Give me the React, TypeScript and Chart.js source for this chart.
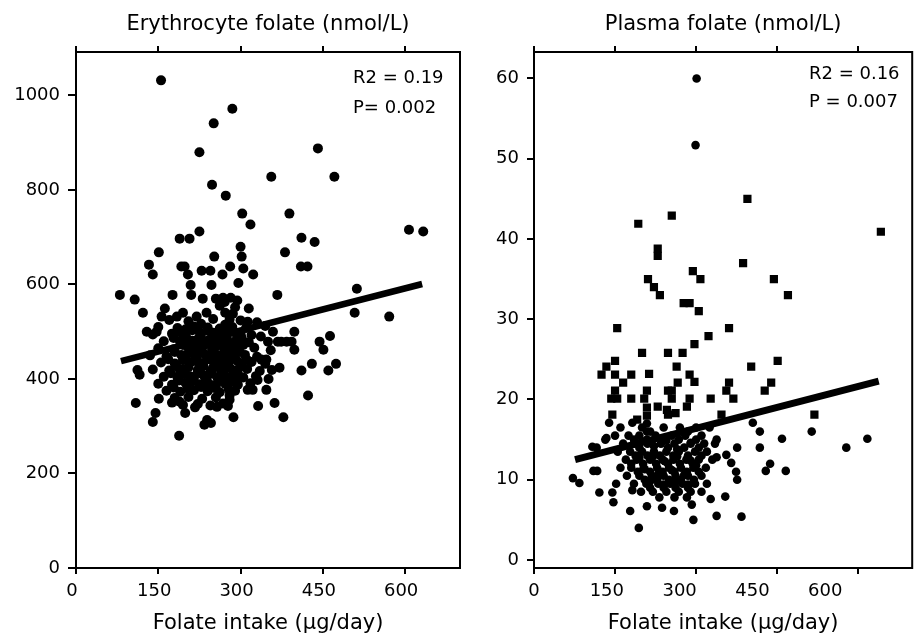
import React, { useEffect, useRef } from 'react';
import { Chart, registerables } from 'chart.js';

Chart.register(...registerables);

const FONT_FAMILY = "'DejaVu Sans', sans-serif";

// ---- axis ticks & texts ----
const intakeTicks = [0, 150, 300, 450, 600];
const eryTicks = [0, 200, 400, 600, 800, 1000];
const plasmaTicks = [0, 10, 20, 30, 40, 50, 60];

const eryTitle = 'Erythrocyte folate (nmol/L)';
const plasmaTitle = 'Plasma folate (nmol/L)';
const intakeTitle = 'Folate intake (µg/day)';
const eryStats = ['R2 = 0.19', 'P= 0.002'];
const plasmaStats = ['R2 = 0.16', 'P = 0.007'];

// ---- erythrocyte folate vs intake ----
const eryFit: [number, number][] = [[82, 438], [631, 601]];

const eryPeriphery: [number, number][] = [
  [155, 1032], [251, 941], [285, 972], [225, 880], [248, 811], [273, 788], [356, 828], [441, 888], [471, 828],
  [303, 750], [318, 727], [389, 750], [607, 716], [633, 712], [225, 712], [189, 697], [207, 697],
  [151, 668], [133, 642], [140, 621], [192, 638], [198, 638], [204, 621], [209, 599], [252, 659],
  [229, 629], [245, 629], [247, 599], [267, 621], [281, 638], [300, 680], [302, 659], [305, 634], [323, 621], [296, 603],
  [411, 699], [435, 690], [381, 668], [410, 638], [422, 638], [367, 578], [80, 578], [107, 568], [176, 578], [210, 578], [231, 570],
  [512, 591], [508, 540], [571, 532], [122, 540], [162, 549], [156, 532], [184, 532], [195, 540], [220, 532], [238, 540], [315, 549], [313, 521],
  [129, 500], [147, 500], [398, 500], [359, 500], [298, 489],
  [112, 419], [116, 409], [109, 349], [140, 309], [145, 328], [151, 358], [188, 280], [199, 328], [217, 340],
  [234, 303], [239, 313], [246, 307], [257, 341], [277, 343], [280, 356], [287, 319], [332, 343], [362, 349], [378, 319],
  [347, 377], [313, 377], [322, 377], [331, 398], [351, 400], [357, 419], [371, 424], [411, 418], [430, 432], [423, 365],
  [460, 418], [474, 432], [444, 479], [451, 462], [463, 491], [398, 462], [384, 479], [368, 479], [350, 479], [337, 490],
  [338, 441], [347, 441], [374, 479], [393, 479], [175, 350], [189, 352],
  [255, 570], [268, 572], [282, 572], [294, 566], [290, 552], [286, 538], [280, 526], [262, 555], [272, 540], [271, 563],
];

const eryCluster: [number, number][] = [
  [170, 525], [205, 522], [250, 527], [300, 524], [330, 520],
  [228, 517], [272, 515],
  [150, 510], [185, 508], [215, 511], [240, 509], [262, 507], [285, 510], [310, 508], [345, 512],
  [188, 500], [212, 503], [242, 501], [265, 503], [288, 499],
  [140, 494], [175, 496], [200, 493], [228, 495], [255, 494], [275, 492], [300, 496], [320, 493],
  [178, 487], [202, 485], [225, 488], [250, 486], [275, 484], [302, 487],
  [160, 480], [190, 478], [212, 481], [238, 479], [260, 477], [290, 480], [315, 478],
  [195, 472], [218, 470], [236, 473], [258, 471], [280, 469], [305, 472],
  [150, 465], [178, 463], [205, 466], [225, 464], [248, 462], [270, 465], [295, 463], [325, 466], [355, 461],
  [180, 457], [205, 455], [230, 458], [252, 456], [275, 454], [298, 457],
  [135, 450], [165, 448], [192, 451], [218, 449], [240, 447], [262, 450], [285, 448], [308, 451], [330, 447],
  [168, 442], [195, 440], [220, 443], [245, 441], [268, 439], [290, 442], [312, 440],
  [155, 435], [180, 433], [210, 436], [232, 434], [255, 432], [278, 435], [300, 433], [320, 436], [345, 432],
  [183, 427], [205, 425], [232, 428], [258, 426], [280, 424], [302, 427],
  [140, 420], [170, 418], [195, 421], [222, 419], [245, 417], [268, 420], [290, 418], [312, 421], [335, 417],
  [173, 412], [198, 410], [222, 413], [248, 411], [270, 409], [295, 412],
  [160, 405], [185, 403], [208, 406], [235, 404], [258, 402], [282, 405], [305, 403], [328, 406],
  [188, 397], [212, 395], [238, 398], [262, 396], [285, 394],
  [150, 390], [175, 388], [200, 391], [225, 389], [248, 387], [272, 390], [295, 388], [318, 391],
  [178, 382], [203, 380], [228, 383], [252, 381], [278, 379],
  [165, 375], [190, 373], [215, 376], [240, 374], [262, 372], [290, 375],
  [180, 360], [205, 362], [230, 358], [255, 361], [280, 365],
  [195, 345], [222, 347], [245, 344], [268, 348],
  [200, 505], [225, 500], [250, 498], [278, 506], [195, 488], [220, 482], [245, 476], [268, 480], [292, 474],
  [210, 462], [235, 452], [258, 445], [282, 460], [200, 445], [225, 430], [250, 424], [272, 430], [295, 437],
  [190, 415], [215, 402], [240, 392], [265, 415], [290, 400], [230, 410], [255, 385],
];

// ---- plasma folate vs intake ----
const plasmaFit: [number, number][] = [[76, 12.5], [638, 22.3]];

const plasmaSquares: [number, number][] = [
  [255, 42.9], [193, 41.9], [395, 45.0], [642, 40.9], [229, 38.8], [229, 37.9], [387, 37.0], [294, 36.0], [308, 35.0],
  [211, 35.0], [222, 34.0], [233, 33.0], [444, 35.0], [470, 33.0], [277, 32.0], [288, 32.0], [305, 31.0],
  [154, 28.9], [361, 28.9], [323, 27.9], [297, 26.9], [200, 25.8], [248, 25.8], [275, 25.8], [150, 24.8], [451, 24.8],
  [134, 24.1], [264, 24.1], [402, 24.1],
  [125, 23.1], [150, 23.1], [180, 23.1], [213, 23.2], [288, 23.1], [297, 22.2], [165, 22.1], [266, 22.1], [361, 22.1], [439, 22.1],
  [427, 21.1], [150, 21.1], [209, 21.1], [248, 21.1], [255, 21.1], [356, 21.1],
  [143, 20.1], [154, 20.1], [180, 20.1], [204, 20.1], [255, 20.1], [288, 20.1], [327, 20.1], [369, 20.1],
  [229, 19.1], [283, 19.1], [248, 18.1], [145, 18.1], [519, 18.1], [347, 18.1], [209, 19.0], [209, 18.0],
  [246, 18.7], [262, 18.3], [191, 17.5],
];

const plasmaDots: [number, number][] = [
  [301, 60.0], [299, 51.7],
  [139, 17.1], [182, 17.1], [405, 17.1], [514, 16.0], [418, 16.0], [338, 15.0], [459, 15.1], [617, 15.1],
  [132, 15.0], [578, 14.0], [418, 14.0], [376, 14.0], [116, 14.0], [108, 14.1], [134, 15.2],
  [437, 12.0], [429, 11.1], [466, 11.1], [356, 13.1], [365, 12.1], [374, 11.0], [376, 10.0], [338, 12.8],
  [110, 11.1], [117, 11.1], [72, 10.2], [84, 9.6], [121, 8.4], [145, 8.4], [147, 7.2], [178, 6.1], [209, 6.7],
  [237, 6.5], [259, 6.1], [194, 4.0], [295, 5.0], [292, 6.9], [338, 5.5], [384, 5.4], [327, 7.6], [354, 7.9],
  [152, 9.5], [182, 8.7], [209, 17.0], [209, 16.0], [209, 15.0],
  [160, 16.5], [200, 16.5], [240, 16.5], [270, 16.5], [300, 16.5], [325, 16.5],
  [150, 15.5], [175, 15.5], [195, 15.5], [225, 15.5], [255, 15.5], [280, 15.5], [310, 15.5],
  [165, 14.5], [185, 14.5], [210, 14.5], [235, 14.5], [260, 14.5], [290, 14.5], [315, 14.5], [335, 14.5],
  [155, 13.5], [178, 13.5], [200, 13.5], [222, 13.5], [245, 13.5], [268, 13.5], [298, 13.5], [320, 13.5],
  [170, 12.5], [190, 12.5], [215, 12.5], [238, 12.5], [258, 12.5], [282, 12.5], [305, 12.5], [330, 12.5],
  [160, 11.5], [180, 11.5], [203, 11.5], [228, 11.5], [250, 11.5], [272, 11.5], [295, 11.5], [318, 11.5],
  [172, 10.5], [195, 10.5], [218, 10.5], [240, 10.5], [262, 10.5], [285, 10.5], [310, 10.5],
  [185, 9.5], [208, 9.5], [230, 9.5], [252, 9.5], [275, 9.5], [298, 9.5], [320, 9.5],
  [198, 8.5], [220, 8.5], [245, 8.5], [268, 8.5], [290, 8.5], [310, 8.5],
  [232, 7.8], [260, 7.8], [283, 7.8],
  [215, 16.0], [285, 16.0],
  [185, 15.0], [240, 15.0], [268, 15.0], [300, 15.0],
  [195, 14.0], [248, 14.0], [278, 14.0], [305, 14.0],
  [188, 13.0], [210, 13.0], [233, 13.0], [258, 13.0], [285, 13.0], [310, 13.0],
  [180, 12.0], [202, 12.0], [226, 12.0], [248, 12.0], [270, 12.0], [294, 12.0],
  [192, 11.0], [215, 11.0], [238, 11.0], [260, 11.0], [283, 11.0], [305, 11.0],
  [205, 10.0], [228, 10.0], [250, 10.0], [272, 10.0], [296, 10.0],
  [215, 9.0], [240, 9.0], [262, 9.0], [285, 9.0],
  [200, 14.8], [222, 14.2], [245, 14.9], [265, 13.8], [290, 14.6], [195, 12.7], [220, 12.9], [242, 12.3],
  [265, 12.9], [290, 12.4], [205, 11.3], [230, 10.7], [255, 11.2], [278, 10.6], [300, 11.8],
  [215, 9.8], [240, 9.4], [262, 9.7], [285, 9.4],
];

// ---- helpers ----
const toXY = (pts: [number, number][]) => pts.map(([x, y]) => ({ x, y }));

const tickSetter = (values: number[]) => (scale: any) => {
  scale.ticks = values.map((v) => ({ value: v }));
};

const plainLabel = (v: any) => String(v);

const tickGrid = (len: number) => ({
  display: true,
  drawOnChartArea: false,
  drawTicks: true,
  tickLength: len,
  color: '#000',
  lineWidth: 2,
});

const tickFont = { family: FONT_FAMILY, size: 18 };
const titleFont = { family: FONT_FAMILY, size: 21 };

function framePlugin(notes: string[], noteX: number, noteYs: number[]) {
  return {
    id: 'frameAndNotes',
    afterDraw(chart: any) {
      const { ctx, chartArea: a } = chart;
      ctx.save();
      ctx.strokeStyle = '#000';
      ctx.lineWidth = 2;
      ctx.strokeRect(a.left, a.top, a.right - a.left, a.bottom - a.top);
      ctx.fillStyle = '#000';
      ctx.font = `18px ${FONT_FAMILY}`;
      ctx.textAlign = 'left';
      ctx.textBaseline = 'alphabetic';
      notes.forEach((t, i) => ctx.fillText(t, noteX, noteYs[i]));
      ctx.restore();
    },
  };
}

export default function App() {
  const leftRef = useRef<HTMLCanvasElement | null>(null);
  const rightRef = useRef<HTMLCanvasElement | null>(null);

  useEffect(() => {
    if (!leftRef.current || !rightRef.current) return;

    const left = new Chart(leftRef.current, {
      type: 'scatter',
      data: {
        datasets: [
          {
            data: toXY(eryFit),
            showLine: true,
            borderColor: '#000',
            borderWidth: 6.5,
            pointRadius: 0,
          } as any,
          {
            data: toXY([...eryPeriphery, ...eryCluster]),
            pointStyle: 'circle',
            pointRadius: 5,
            pointHoverRadius: 5,
            backgroundColor: '#000',
            borderColor: '#000',
            borderWidth: 0,
          } as any,
        ],
      },
      options: {
        animation: false,
        responsive: false,
        events: [],
        layout: { padding: { left: 0, right: 10, top: 0, bottom: 0 } },
        plugins: { legend: { display: false }, tooltip: { enabled: false } },
        scales: {
          x: {
            type: 'linear',
            position: 'bottom',
            min: 0,
            max: 700,
            afterBuildTicks: tickSetter(intakeTicks),
            ticks: { font: tickFont, color: '#000', padding: 7, labelOffset: -4, maxRotation: 0, autoSkip: false, callback: plainLabel },
            grid: tickGrid(6),
            border: { display: false },
            title: { display: true, text: intakeTitle, font: titleFont, color: '#000', padding: { top: 0, bottom: 0 } },
            afterFit: (s: any) => { s.height = 68; },
          },
          x2: {
            type: 'linear',
            axis: 'x',
            position: 'top',
            min: 0,
            max: 700,
            afterBuildTicks: tickSetter(intakeTicks),
            ticks: { display: false },
            grid: tickGrid(6),
            border: { display: false },
            title: { display: true, text: eryTitle, font: titleFont, color: '#000', padding: { top: 12, bottom: 0 } },
            afterFit: (s: any) => { s.height = 52; },
          },
          y: {
            type: 'linear',
            position: 'left',
            min: 0,
            max: 1092,
            afterBuildTicks: tickSetter(eryTicks),
            ticks: { font: tickFont, color: '#000', padding: 8, callback: plainLabel },
            grid: tickGrid(8),
            border: { display: false },
            afterFit: (s: any) => { s.width = 76; },
          },
        } as any,
      },
      plugins: [framePlugin(eryStats, 353, [83, 113])],
    });

    const right = new Chart(rightRef.current, {
      type: 'scatter',
      data: {
        datasets: [
          {
            data: toXY(plasmaFit),
            showLine: true,
            borderColor: '#000',
            borderWidth: 7,
            pointRadius: 0,
          } as any,
          {
            data: toXY(plasmaSquares),
            pointStyle: 'rect',
            pointRadius: 5.8,
            pointHoverRadius: 5.8,
            backgroundColor: '#000',
            borderColor: '#000',
            borderWidth: 0,
          } as any,
          {
            data: toXY(plasmaDots),
            pointStyle: 'circle',
            pointRadius: 4.3,
            pointHoverRadius: 4.3,
            backgroundColor: '#000',
            borderColor: '#000',
            borderWidth: 0,
          } as any,
        ],
      },
      options: {
        animation: false,
        responsive: false,
        events: [],
        layout: { padding: { left: 0, right: 2, top: 0, bottom: 0 } },
        plugins: { legend: { display: false }, tooltip: { enabled: false } },
        scales: {
          x: {
            type: 'linear',
            position: 'bottom',
            weight: 0,
            min: 0,
            max: 700,
            afterBuildTicks: tickSetter(intakeTicks),
            ticks: { display: false },
            grid: tickGrid(6),
            border: { display: false },
            afterFit: (s: any) => { s.height = 0; },
          },
          xLab: {
            type: 'linear',
            axis: 'x',
            position: 'bottom',
            weight: 1,
            min: 0,
            max: 779,
            afterBuildTicks: tickSetter(intakeTicks),
            ticks: { font: tickFont, color: '#000', padding: 13, maxRotation: 0, autoSkip: false, callback: plainLabel },
            grid: { display: false, drawTicks: false },
            border: { display: false },
            title: { display: true, text: intakeTitle, font: titleFont, color: '#000', padding: { top: 0, bottom: 0 } },
            afterFit: (s: any) => { s.height = 68; },
          },
          x2: {
            type: 'linear',
            axis: 'x',
            position: 'top',
            min: 0,
            max: 700,
            afterBuildTicks: tickSetter(intakeTicks),
            ticks: { display: false },
            grid: tickGrid(6),
            border: { display: false },
            title: { display: true, text: plasmaTitle, font: titleFont, color: '#000', padding: { top: 12, bottom: 0 } },
            afterFit: (s: any) => { s.height = 52; },
          },
          y: {
            type: 'linear',
            position: 'left',
            min: -1,
            max: 63.3,
            afterBuildTicks: tickSetter(plasmaTicks),
            ticks: { font: tickFont, color: '#000', padding: 8, callback: plainLabel },
            grid: tickGrid(7),
            border: { display: false },
            afterFit: (s: any) => { s.width = 64; },
          },
        } as any,
      },
      plugins: [framePlugin(plasmaStats, 339, [79, 107])],
    });

    return () => {
      left.destroy();
      right.destroy();
    };
  }, []);

  return (
    <div style={{ position: 'absolute', left: 0, top: 0, width: 918, height: 636, background: '#fff' }}>
      <canvas
        ref={leftRef}
        width={470}
        height={636}
        style={{ position: 'absolute', left: 0, top: 0, width: 470, height: 636, display: 'block' }}
      />
      <canvas
        ref={rightRef}
        width={448}
        height={636}
        style={{ position: 'absolute', left: 470, top: 0, width: 448, height: 636, display: 'block' }}
      />
    </div>
  );
}
